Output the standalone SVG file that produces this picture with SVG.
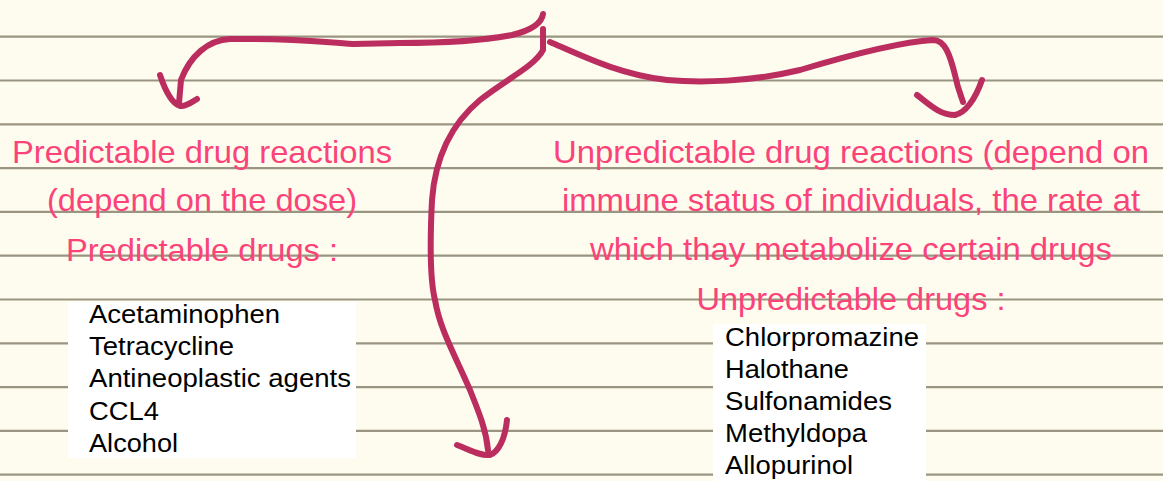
<svg xmlns="http://www.w3.org/2000/svg" width="1163" height="481" viewBox="0 0 1163 481">
<style>
.rule{stroke:#9a9582;stroke-width:2.2}
.pink{font-family:"Liberation Sans",Arial,sans-serif;font-size:32px;fill:#fb4379;text-anchor:middle}
.blk{font-family:"Liberation Sans",Arial,sans-serif;font-size:25px;fill:#000}
.box{fill:#ffffff}
.ink{fill:none;stroke:#bb2d5e;stroke-width:6;stroke-linecap:round;stroke-linejoin:round}
</style>
<rect width="1163" height="481" fill="#fefcee"/>
<g id="rules">
<line class="rule" x1="0" y1="36.7" x2="1163" y2="36.7"/>
<line class="rule" x1="0" y1="80.5" x2="1163" y2="80.5"/>
<line class="rule" x1="0" y1="124.3" x2="1163" y2="124.3"/>
<line class="rule" x1="0" y1="168.1" x2="1163" y2="168.1"/>
<line class="rule" x1="0" y1="211.9" x2="1163" y2="211.9"/>
<line class="rule" x1="0" y1="255.7" x2="1163" y2="255.7"/>
<line class="rule" x1="0" y1="299.5" x2="1163" y2="299.5"/>
<line class="rule" x1="0" y1="343.3" x2="1163" y2="343.3"/>
<line class="rule" x1="0" y1="387.1" x2="1163" y2="387.1"/>
<line class="rule" x1="0" y1="430.9" x2="1163" y2="430.9"/>
<line class="rule" x1="0" y1="474.7" x2="1163" y2="474.7"/>
</g>
<g id="connectors">
<path class="ink" d="M543 14 Q541 28 512 35 Q472 43 400 43 L353 44 C320 42 300 38 230 39 C208 40 190 56 181 80 L179 103"/>
<path class="ink" d="M160 75 C165 90 171 103 180 106 C186 107 192 102 197 99"/>
<path class="ink" d="M543 29 L543 50 C535 66 505 80 480 100 C450 125 435 160 432 200 C430 240 430 280 435 300 C440 330 455 355 470 390 C480 415 486 430 488 450"/>
<path class="ink" d="M457 445 C470 450 480 456 490 455 C498 452 505 440 507 420"/>
<path class="ink" d="M550 42 C580 55 620 75 667 80 C700 83 750 82 800 70 C840 58 900 42 933 40 C945 40 950 55 955 75 C958 90 962 98 963 102"/>
<path class="ink" d="M917 95 C930 105 940 115 955 115 C965 113 975 100 982 80"/>
</g>
<g id="predictable">
<text class="pink" x="202" y="163" textLength="380" lengthAdjust="spacingAndGlyphs">Predictable drug reactions</text>
<text class="pink" x="202" y="211" textLength="310" lengthAdjust="spacingAndGlyphs">(depend on the dose)</text>
<text class="pink" x="202" y="261" textLength="272" lengthAdjust="spacingAndGlyphs">Predictable drugs :</text>
</g>
<g id="predictable-list">
<rect class="box" x="68" y="302" width="288" height="156"/>
<text class="blk" x="89" y="323" textLength="191" lengthAdjust="spacingAndGlyphs">Acetaminophen</text>
<text class="blk" x="89" y="355" textLength="145" lengthAdjust="spacingAndGlyphs">Tetracycline</text>
<text class="blk" x="89" y="387" textLength="262" lengthAdjust="spacingAndGlyphs">Antineoplastic agents</text>
<text class="blk" x="89" y="420" textLength="70" lengthAdjust="spacingAndGlyphs">CCL4</text>
<text class="blk" x="89" y="452" textLength="89" lengthAdjust="spacingAndGlyphs">Alcohol</text>
</g>
<g id="unpredictable">
<text class="pink" x="851" y="163" textLength="596" lengthAdjust="spacingAndGlyphs">Unpredictable drug reactions (depend on</text>
<text class="pink" x="851" y="211" textLength="578" lengthAdjust="spacingAndGlyphs">immune status of individuals, the rate at</text>
<text class="pink" x="851" y="260" textLength="522" lengthAdjust="spacingAndGlyphs">which thay metabolize certain drugs</text>
<text class="pink" x="851" y="310" textLength="309" lengthAdjust="spacingAndGlyphs">Unpredictable drugs :</text>
</g>
<g id="unpredictable-list">
<rect class="box" x="713" y="324" width="213" height="157"/>
<text class="blk" x="725" y="346" textLength="194" lengthAdjust="spacingAndGlyphs">Chlorpromazine</text>
<text class="blk" x="725" y="378" textLength="124" lengthAdjust="spacingAndGlyphs">Halothane</text>
<text class="blk" x="725" y="410" textLength="167" lengthAdjust="spacingAndGlyphs">Sulfonamides</text>
<text class="blk" x="725" y="442" textLength="142" lengthAdjust="spacingAndGlyphs">Methyldopa</text>
<text class="blk" x="725" y="474" textLength="128" lengthAdjust="spacingAndGlyphs">Allopurinol</text>
</g>
</svg>
